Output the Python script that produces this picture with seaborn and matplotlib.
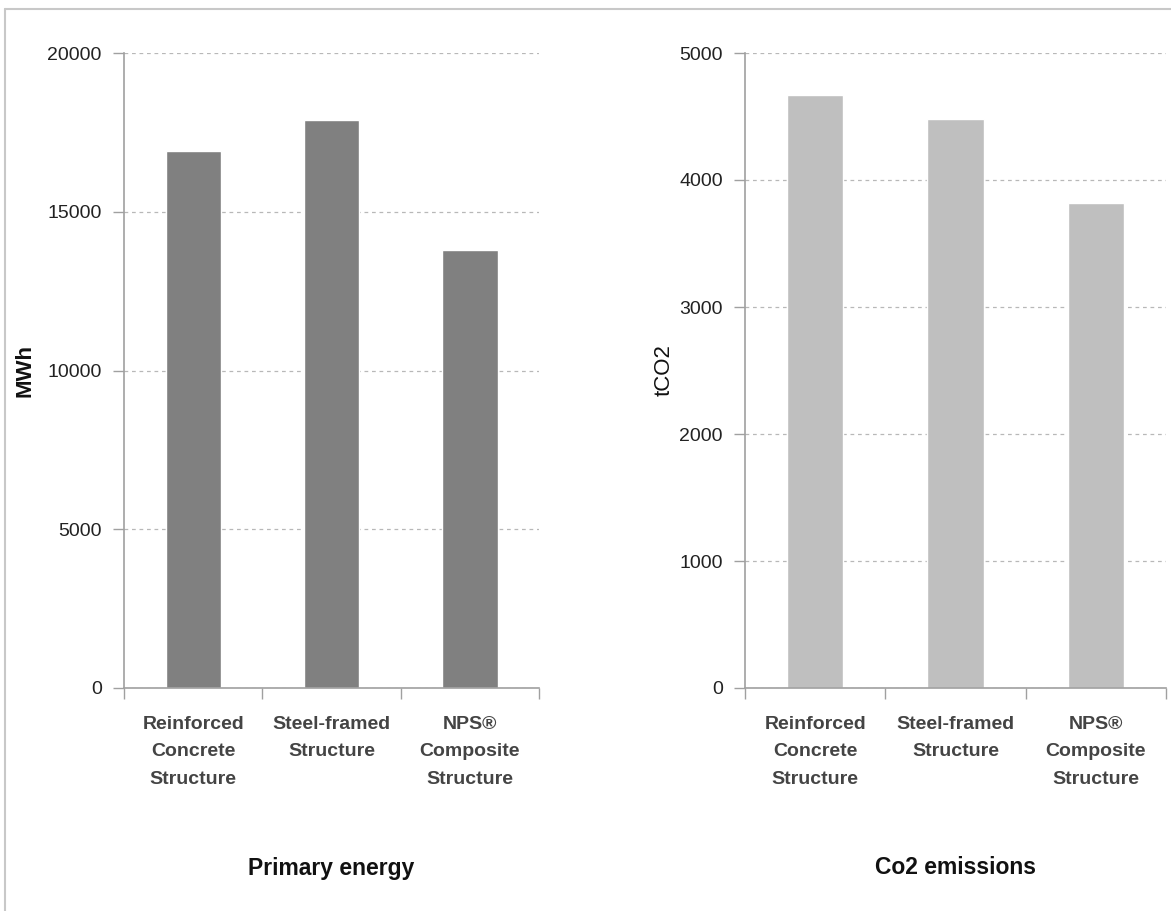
import matplotlib
import pandas as pd
from matplotlib import font_manager

matplotlib.use("Agg")
import matplotlib.pyplot as plt
import seaborn as sns
from matplotlib.lines import Line2D
from matplotlib.ticker import FixedLocator

categories = ["Reinforced\nConcrete\nStructure", "Steel-framed\nStructure", "NPS\u00ae\nComposite\nStructure"]
energy_mwh = [16900, 17900, 13800]
co2_t = [4670, 4480, 3820]

sns.set_theme(style="white")
plt.rcParams["font.family"] = ["Liberation Sans", "DejaVu Sans"]

names = {f.name for f in font_manager.fontManager.ttflist}
narrow = "Liberation Sans Narrow" if "Liberation Sans Narrow" in names else "Liberation Sans"

fig = plt.figure(figsize=(11.71, 9.11), dpi=100)
ax1 = fig.add_axes([124 / 1171, 1 - 688 / 911, 415 / 1171, 635 / 911])
ax2 = fig.add_axes([745 / 1171, 1 - 688 / 911, 421 / 1171, 635 / 911])

panels = [
    (ax1, energy_mwh, "#808080", 20000, 5000, "MWh", "bold", "Primary energy"),
    (ax2, co2_t, "#bfbfbf", 5000, 1000, "tCO2", "normal", "Co2 emissions"),
]

for ax, vals, color, ymax, step, ylab, ylw, title in panels:
    df = pd.DataFrame({"cat": categories, "val": vals})
    sns.barplot(data=df, x="cat", y="val", color=color, width=0.4, ax=ax, saturation=1)
    ax.set_xlim(-0.5, 2.5)
    ax.set_ylim(0, ymax)
    ax.set_yticks(range(0, ymax + 1, step))
    ax.set_xticks(range(len(categories)), labels=categories, fontfamily=narrow, fontweight="bold",
                  fontsize=14, color="#444444", linespacing=1.8)
    ax.yaxis.grid(True, linestyle=(0, (3, 3)), color="#b8b8b8", linewidth=0.9)
    ax.set_axisbelow(True)
    for s in ["top", "right"]:
        ax.spines[s].set_visible(False)
    for s in ["left", "bottom"]:
        ax.spines[s].set_color("#a0a0a0")
        ax.spines[s].set_linewidth(1.2)
    ax.tick_params(axis="y", which="major", left=True, length=8, width=1, color="#a0a0a0",
                   labelsize=14, labelcolor="#222222", pad=8)
    ax.tick_params(axis="x", which="major", bottom=False, pad=14)
    ax.xaxis.set_minor_locator(FixedLocator([-0.5, 0.5, 1.5, 2.5]))
    ax.tick_params(axis="x", which="minor", bottom=True, length=8, width=1, color="#a0a0a0")
    ax.set_xlabel("")
    ax.set_ylabel(ylab, fontsize=16, fontweight=ylw, color="#111111")
    pos = ax.get_position()
    fig.text(pos.x0 + pos.width / 2, 1 - 868 / 911, title, ha="center", va="center",
             fontsize=16.5, fontweight="bold", fontfamily=narrow, color="#111111")

ax1.yaxis.set_label_coords(-0.213, 0.5)
ax2.yaxis.set_label_coords(-0.168, 0.5)

# frame of the original image (left and top edges only)
fig.add_artist(Line2D([5 / 1171, 5 / 1171], [0, 1 - 9 / 911], transform=fig.transFigure, color="#c8c8c8", lw=1.5))
fig.add_artist(Line2D([5 / 1171, 1], [1 - 9 / 911, 1 - 9 / 911], transform=fig.transFigure, color="#c8c8c8", lw=1.5))

fig.savefig("out.png", dpi=100)
